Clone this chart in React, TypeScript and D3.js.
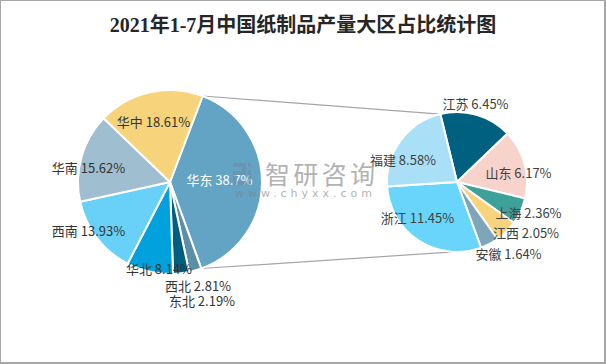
import React from "react";
import * as d3 from "d3";

const W = 606;
const H = 364;

const titleText = "2021年1-7月中国纸制品产量大区占比统计图";

// Main pie (order clockwise starting at 华东)
const mainNames = ["华东", "东北", "西北", "华北", "西南", "华南", "华中"];
const mainValues = [38.7, 2.19, 2.81, 8.14, 13.93, 15.62, 18.61];
const mainColors = ["#63a4c4", "#5c8fa6", "#005f7e", "#00a1dc", "#69d0f7", "#9fbecf", "#f7d37b"];

// Secondary pie (breakdown of 华东)
const subNames = ["江苏", "山东", "上海", "江西", "安徽", "浙江", "福建"];
const subValues = [6.45, 6.17, 2.36, 2.05, 1.64, 11.45, 8.58];
const subColors = ["#00607f", "#f8d3cc", "#3da199", "#f7d37b", "#7ea5b8", "#69d5fb", "#a9e0f8"];

// label layout (centre positions of label text)
const mainLabelPos: [number, number][] = [
  [219.5, 179.5],
  [202, 301],
  [198, 285.5],
  [159, 268.5],
  [88.5, 230.5],
  [88.5, 167.5],
  [153.5, 122],
];
const subLabelPos: [number, number][] = [
  [475.5, 103.5],
  [518.5, 172.5],
  [528.5, 212.5],
  [526, 232.5],
  [508.5, 253.5],
  [417.5, 218],
  [403, 159.5],
];

const deg = Math.PI / 180;
const L = { cx: 170, cy: 182, r: 92, start: 20.8 * deg };
const R = { cx: 457, cy: 182, r: 70, start: -13.8 * deg };

function pt(c: { cx: number; cy: number; r: number }, a: number): [number, number] {
  return [c.cx + c.r * Math.sin(a), c.cy - c.r * Math.cos(a)];
}

export default function App() {
  const mainPie = d3
    .pie<number>()
    .sort(null)
    .value((d) => d)
    .startAngle(L.start)
    .endAngle(L.start + 2 * Math.PI)(mainValues);
  const subPie = d3
    .pie<number>()
    .sort(null)
    .value((d) => d)
    .startAngle(R.start)
    .endAngle(R.start + 2 * Math.PI)(subValues);

  const arcL = d3.arc<d3.PieArcDatum<number>>().innerRadius(0).outerRadius(L.r);
  const arcR = d3.arc<d3.PieArcDatum<number>>().innerRadius(0).outerRadius(R.r);

  const other = mainPie[0];
  const p1 = pt(L, other.startAngle);
  const p2 = pt(R, -14 * deg);
  const p3 = pt(L, other.endAngle);
  const p4 = pt(R, 183 * deg);

  const labelFont = "'Noto Sans CJK SC', 'Noto Sans', sans-serif";

  return (
    <svg
      width={W}
      height={H}
      style={{ position: "absolute", left: 0, top: 0, background: "#fff" }}
    >
      <rect x={0} y={0} width={W} height={H} fill="#fff" />
      <line x1={0.5} y1={0} x2={0.5} y2={H} stroke="#a6a6a6" strokeWidth={1} />
      <line x1={0} y1={0.5} x2={W} y2={0.5} stroke="#a6a6a6" strokeWidth={1} />
      <line x1={W - 1} y1={0} x2={W - 1} y2={H} stroke="#a6a6a6" strokeWidth={2} />
      <line x1={0} y1={H - 1} x2={W} y2={H - 1} stroke="#a6a6a6" strokeWidth={2} />

      <text
        x={303}
        y={31.5}
        textAnchor="middle"
        fontFamily="'Liberation Serif', 'Noto Sans CJK SC', serif"
        fontWeight="bold"
        fontSize={20}
        fill="#262626"
      >
        {titleText}
      </text>

      <line x1={p1[0]} y1={p1[1]} x2={p2[0]} y2={p2[1]} stroke="#a6a6a6" strokeWidth={1.2} />
      <line x1={p3[0]} y1={p3[1]} x2={p4[0]} y2={p4[1]} stroke="#a6a6a6" strokeWidth={1.2} />

      <g transform={`translate(${L.cx},${L.cy})`}>
        {mainPie.map((d, i) => (
          <path key={i} d={arcL(d) || ""} fill={mainColors[i]} stroke="#fff" strokeWidth={2} strokeLinejoin="round" />
        ))}
      </g>
      <g transform={`translate(${R.cx},${R.cy})`}>
        {subPie.map((d, i) => (
          <path key={i} d={arcR(d) || ""} fill={subColors[i]} stroke="#fff" strokeWidth={2} strokeLinejoin="round" />
        ))}
      </g>

      {mainNames.map((n, i) => (
        <text
          key={"ml" + i}
          x={mainLabelPos[i][0]}
          y={mainLabelPos[i][1] + 5}
          textAnchor="middle"
          fontFamily={labelFont}
          fontSize={13}
          fill={i === 0 ? "#ffffff" : "#333333"}
        >
          {`${n} ${mainValues[i]}%`}
        </text>
      ))}
      {subNames.map((n, i) => (
        <text
          key={"sl" + i}
          x={subLabelPos[i][0]}
          y={subLabelPos[i][1] + 5}
          textAnchor="middle"
          fontFamily={labelFont}
          fontSize={13}
          fill="#404040"
        >
          {`${n} ${subValues[i]}%`}
        </text>
      ))}

      {/* watermark */}
      <g opacity={0.55} fill="#6f8aa6">
        <rect x={233} y={163} width={13} height={4} />
        <rect x={242} y={163} width={4} height={11} />
        <rect x={233} y={171} width={13} height={4} />
        <rect x={233} y={171} width={4} height={14} />
        <rect x={233} y={181} width={13} height={4} />
        <rect x={248} y={170} width={3} height={15} />
        <rect x={248} y={163} width={3} height={4} />
      </g>
      <g opacity={0.6} fill="#808080">
        <text
          x={265}
          y={184}
          fontFamily={labelFont}
          fontSize={25}
          textLength={110}
          lengthAdjust="spacing"
        >
          智研咨询
        </text>
        <text
          x={235}
          y={197}
          fontFamily="'DejaVu Sans', sans-serif"
          fontSize={11}
          textLength={137}
          lengthAdjust="spacing"
        >
          www.chyxx.com
        </text>
      </g>
    </svg>
  );
}
